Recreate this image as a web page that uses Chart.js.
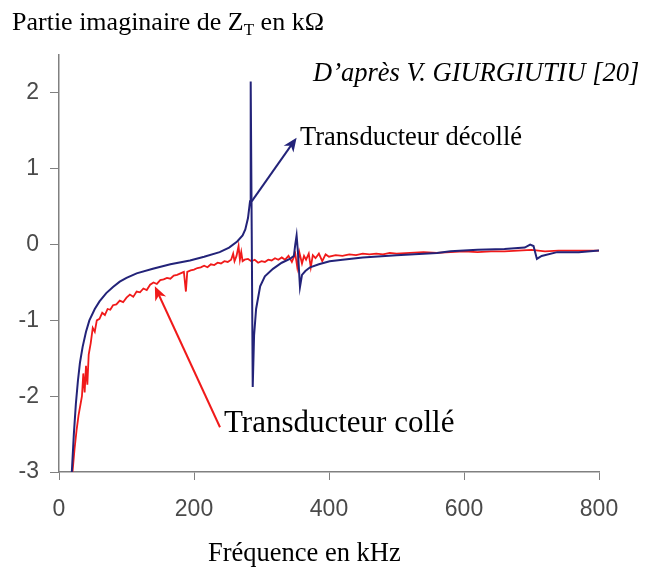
<!DOCTYPE html>
<html>
<head>
<meta charset="utf-8">
<script src="https://cdn.jsdelivr.net/npm/chart.js@4.4.0/dist/chart.umd.min.js"></script>
<style>
html, body { margin: 0; padding: 0; background: #fff; }
</style>
</head>
<body>
<canvas id="chart" width="654" height="568"></canvas>
<script>
// Transducteur décollé (blue)
const freqBlue = [19, 22, 25, 28, 31, 35, 40, 45, 53, 60, 70, 80, 90, 100, 115, 139, 165, 194, 215, 238, 252, 264, 272, 276, 280, 283, 284, 285.5, 287, 289, 292, 298, 305, 317, 330, 342, 348, 350, 352, 354, 357, 360, 365, 372, 385, 401, 420, 450, 500, 560, 580, 620, 660, 690, 698, 703, 708, 715, 738, 770, 800]
const zBlue = [-3.0, -2.5, -2.1, -1.8, -1.56, -1.35, -1.15, -1.0, -0.85, -0.75, -0.64, -0.56, -0.49, -0.44, -0.38, -0.32, -0.26, -0.21, -0.16, -0.1, -0.04, 0.04, 0.12, 0.2, 0.35, 0.57, 2.15, 0.2, -1.88, -1.2, -0.85, -0.55, -0.42, -0.32, -0.24, -0.19, -0.15, 0.0, 0.12, -0.1, -0.56, -0.4, -0.35, -0.3, -0.26, -0.22, -0.2, -0.17, -0.14, -0.11, -0.09, -0.07, -0.06, -0.04, 0.0, -0.02, -0.19, -0.15, -0.1, -0.1, -0.08]

// Transducteur collé (red)
const freqRed = [20, 23, 26, 29, 32, 34, 36, 38, 40, 42, 44, 47, 50, 53, 56, 60, 64, 68, 72, 76, 80, 85, 90, 95, 100, 105, 110, 115, 120, 125, 130, 135, 140, 145, 150, 155, 160, 165, 170, 175, 180, 185, 188, 190, 195, 200, 205, 210, 215, 220, 225, 230, 235, 240, 245, 250, 255, 258, 260, 263, 266, 268, 270, 272, 275, 280, 285, 290, 295, 300, 305, 310, 315, 320, 325, 330, 335, 340, 345, 350, 353, 356, 360, 363, 366, 370, 373, 376, 380, 385, 390, 395, 400, 410, 420, 430, 440, 450, 460, 470, 480, 490, 500, 520, 540, 560, 580, 600, 620, 640, 660, 680, 700, 720, 740, 760, 780, 800]
const zRed = [-3.0, -2.7, -2.45, -2.25, -2.1, -2.0, -1.7, -1.95, -1.6, -1.85, -1.45, -1.3, -1.1, -1.15, -1.0, -0.98, -0.9, -0.93, -0.85, -0.86, -0.8, -0.79, -0.74, -0.76, -0.7, -0.66, -0.69, -0.62, -0.63, -0.58, -0.6, -0.53, -0.5, -0.52, -0.47, -0.46, -0.44, -0.45, -0.41, -0.4, -0.38, -0.36, -0.62, -0.36, -0.34, -0.33, -0.31, -0.3, -0.28, -0.3, -0.26, -0.27, -0.24, -0.25, -0.22, -0.23, -0.2, -0.12, -0.22, -0.15, -0.02, -0.2, -0.1, -0.22, -0.2, -0.19, -0.22, -0.2, -0.24, -0.22, -0.23, -0.2, -0.21, -0.18, -0.2, -0.17, -0.2, -0.15, -0.23, -0.12, -0.3, -0.1, -0.25, -0.15, -0.2, -0.12, -0.3, -0.14, -0.18, -0.12, -0.22, -0.13, -0.16, -0.14, -0.15, -0.13, -0.14, -0.12, -0.13, -0.12, -0.13, -0.11, -0.12, -0.11, -0.1, -0.11, -0.1, -0.09, -0.1, -0.09, -0.09, -0.08, -0.07, -0.09, -0.08, -0.08, -0.08, -0.08]

const xTicks = [0, 200, 400, 600, 800]
const yTicks = [-3, -2, -1, 0, 1, 2]

const blue = '#232379'
const red = '#f01a1a'

// arrows: [from x, from y, to x, to y] in data units
const arrowBlue = [285.5, 0.57, 352, 1.41]
const arrowRed = [238.5, -2.41, 142, -0.55]

function arrow(ctx, chart, a, color) {
	const xs = chart.scales.x, ys = chart.scales.y
	const x1 = xs.getPixelForValue(a[0]), y1 = ys.getPixelForValue(a[1])
	const x2 = xs.getPixelForValue(a[2]), y2 = ys.getPixelForValue(a[3])
	const c = Math.cos(Math.atan2(y2 - y1, x2 - x1)), s = Math.sin(Math.atan2(y2 - y1, x2 - x1))
	ctx.save()
	ctx.strokeStyle = color
	ctx.fillStyle = color
	ctx.lineWidth = 2
	ctx.beginPath()
	ctx.moveTo(x1, y1)
	ctx.lineTo(x2 - 8 * c, y2 - 8 * s)
	ctx.stroke()
	ctx.beginPath()
	ctx.moveTo(x2, y2)
	ctx.lineTo(x2 - 14 * c + 6 * s, y2 - 14 * s - 6 * c)
	ctx.lineTo(x2 - 10 * c, y2 - 10 * s)
	ctx.lineTo(x2 - 14 * c - 6 * s, y2 - 14 * s + 6 * c)
	ctx.closePath()
	ctx.fill()
	ctx.restore()
}

const labelsPlugin = {
	id: 'labels',
	afterDraw(chart) {
		const ctx = chart.ctx
		arrow(ctx, chart, arrowBlue, blue)
		arrow(ctx, chart, arrowRed, red)
		ctx.save()
		ctx.fillStyle = '#000'
		ctx.textBaseline = 'alphabetic'
		ctx.textAlign = 'left'
		// y axis title, Z with subscript T
		ctx.font = '26px "Liberation Serif"'
		let x = 12
		const t1 = 'Partie imaginaire de Z'
		ctx.fillText(t1, x, 30)
		x += ctx.measureText(t1).width
		ctx.font = '17px "Liberation Serif"'
		ctx.fillText('T', x, 35)
		x += ctx.measureText('T').width
		ctx.font = '26px "Liberation Serif"'
		ctx.fillText(' en kΩ', x, 30)
		ctx.font = 'italic 26.5px "Liberation Serif"'
		ctx.fillText('D\u2019après V. GIURGIUTIU [20]', 313, 81)
		ctx.font = '26.5px "Liberation Serif"'
		ctx.fillText('Transducteur décollé', 300, 145)
		ctx.font = '31px "Liberation Serif"'
		ctx.fillText('Transducteur collé', 224, 432)
		ctx.font = '26.5px "Liberation Serif"'
		ctx.fillText('Fréquence en kHz', 208, 561)
		ctx.restore()
	}
}

Chart.defaults.font.family = '"Liberation Sans", Arial, sans-serif'
Chart.defaults.color = '#4a4a4a'

new Chart(document.getElementById('chart'), {
	type: 'line',
	data: {
		datasets: [
			{
				label: 'Transducteur décollé',
				data: freqBlue.map((f, i) => ({ x: f, y: zBlue[i] })),
				borderColor: blue,
				borderWidth: 2,
				pointRadius: 0,
				tension: 0,
				order: 0
			},
			{
				label: 'Transducteur collé',
				data: freqRed.map((f, i) => ({ x: f, y: zRed[i] })),
				borderColor: red,
				borderWidth: 1.8,
				pointRadius: 0,
				tension: 0,
				order: 1
			}
		]
	},
	options: {
		responsive: false,
		animation: false,
		layout: { padding: { top: 55, right: 55, left: 0, bottom: 0 } },
		plugins: {
			legend: { display: false },
			tooltip: { enabled: false }
		},
		scales: {
			x: {
				type: 'linear',
				min: 0,
				max: 800,
				afterBuildTicks: (s) => { s.ticks = xTicks.map(v => ({ value: v })) },
				afterFit: (s) => { s.height = 96 },
				border: { display: true, color: '#808080', width: 1.5 },
				grid: { drawOnChartArea: false, drawTicks: true, tickLength: 8, color: '#808080' },
				ticks: { font: { size: 23 }, padding: 16, maxRotation: 0 }
			},
			y: {
				min: -3,
				max: 2.5,
				afterBuildTicks: (s) => { s.ticks = yTicks.map(v => ({ value: v })) },
				afterFit: (s) => { s.width = 59 },
				border: { display: true, color: '#808080', width: 1.5 },
				grid: { drawOnChartArea: false, drawTicks: true, tickLength: 9, color: '#808080' },
				ticks: { font: { size: 23 }, padding: 11 }
			}
		}
	},
	plugins: [labelsPlugin]
})
</script>
</body>
</html>
